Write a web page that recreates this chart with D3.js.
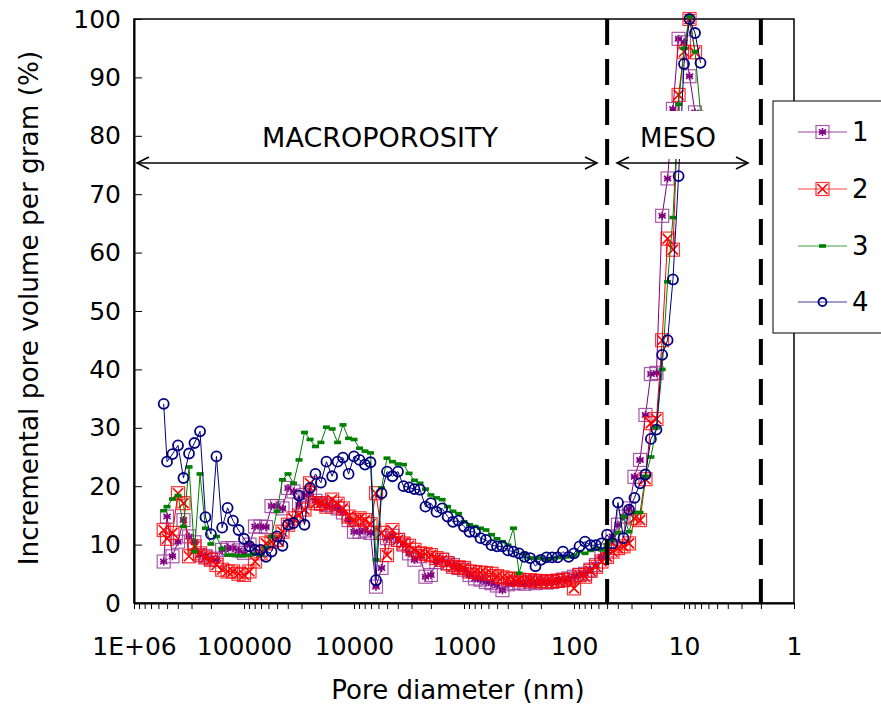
<!DOCTYPE html>
<html><head><meta charset="utf-8">
<script src="https://cdn.jsdelivr.net/npm/d3@7"></script>
<style>body{margin:0;background:#fff;} svg{display:block;font-family:"DejaVu Sans",Verdana,sans-serif;}</style>
</head><body><svg id="c" width="881" height="713"></svg>
<script>
// Pore diameters (nm), shared by all four samples
const diameters = [537000, 501000, 447000, 398000, 355000, 316000, 282000, 251000, 224000, 200000,
  178000, 158000, 141000, 126000, 112000, 100000, 89100, 79400, 70800, 63100,
  56200, 50100, 44700, 39800, 35500, 31600, 28200, 25100, 22400, 20000,
  17800, 15800, 14100, 12600, 11200, 10000, 8910, 7940, 7080, 6310,
  5620, 5010, 4470, 3980, 3550, 3160, 2820, 2510, 2240, 2000,
  1780, 1580, 1410, 1260, 1120, 1000, 891, 794, 708, 631,
  562, 501, 447, 398, 355, 316, 282, 251, 224, 200,
  178, 158, 141, 126, 112, 100, 89.1, 79.4, 70.8, 63.1,
  56.2, 50.1, 44.7, 39.8, 35.5, 31.6, 28.2, 25.1, 22.4, 20.0,
  17.8, 15.8, 14.1, 12.6, 11.2, 10.0, 8.91, 7.94, 7.08];

const series1 = [7.1, 14.8, 8, 10.5, 14.2, 11.4, 10.4, 8.2, 8, 7.6,
  7.4, 9.1, 9.4, 9.4, 9, 8.6, 10, 13.1, 13.1, 13,
  16.6, 16.6, 16.2, 19.7, 19.1, 16.8, 18.5, 18.8, 17.5, 17,
  16.8, 16.5, 16.2, 15.5, 14.2, 12.2, 12.2, 12.4, 12, 2.8,
  6, 11.1, 11.5, 10.8, 10, 8.5, 7.4, 8, 4.5, 4.8,
  7, 7.4, 6.8, 6.5, 6, 5.7, 4.8, 4.2, 4, 3.6,
  3.4, 3, 2.2, 3.2, 3.4, 3.5, 3.3, 3.6, 3.4, 3.7,
  3.5, 3.6, 3.8, 4, 4.2, 4.5, 4.8, 5, 5.7, 6.5,
  7.9, 9, 11.4, 13.4, 14.8, 16.2, 21.6, 24.5, 32.2, 39.2,
  39.4, 66.3, 72.7, 84.6, 96.6, 96, 90.2, 84, null];

const series2 = [12.5, 11, 12, 18.8, 17.1, 8, 9.7, 8.5, 7.8, 7.4,
  6.5, 5.7, 5.4, 5.4, 5, 4.8, 5.4, 7.1, 8.5, 10.2,
  10.5, 10.8, 12.2, 13.4, 14.5, 15, 16, 20.5, 17.1, 17.1,
  16.5, 17.7, 17, 16.2, 14.8, 14.2, 14.5, 14.2, 13.5, 18.8,
  12, 8.2, 12.5, 10.8, 10.2, 9.8, 9.1, 8.5, 8.4, 8.2,
  7.7, 7.4, 6.8, 6.2, 6.1, 6, 5.4, 5.3, 5.2, 5.1,
  5, 4.6, 4.4, 4.2, 4.1, 4, 3.9, 3.9, 3.8, 3.7,
  3.7, 3.7, 3.8, 3.9, 4, 2.5, 4.8, 4.5, 5.5, 6.2,
  7.1, 7.9, 8.8, 9.4, 9.7, 10.2, 14.5, 14.2, 21.2, 30.8,
  31.5, 45, 62.4, 60.5, 87, 94.4, 100, 94.3, null];

const series3 = [15.8, 16.5, 17.8, 18.4, 13.1, 23.3, 8.8, 22.1, 12.8, 10.1,
  11.4, 9.3, 8.2, 8.2, 8.1, 8.1, 8.2, 8.4, 8.2, 9.5,
  11.4, 15.7, 21.1, 22.1, 20.5, 24.5, 29.2, 28, 26.8, 27.5,
  30.1, 29.8, 27.5, 30.5, 28.2, 28, 26.5, 26, 25.7, 7.4,
  19.7, 24.8, 24.2, 23.8, 23.7, 22.2, 21, 20.5, 19.5, 18.5,
  18, 17.7, 16.5, 15.7, 15.3, 13.9, 13.4, 13.1, 12.8, 12.5,
  11.7, 11, 10.5, 9.9, 12.8, 5.1, 8.5, 7.7, 7.7, 7.7,
  7.4, 7.6, 7.8, 7.8, 7.9, 8.2, 8.8, 8.5, 9, 9.4,
  9.1, 10, 10.8, 12, 14.8, 12.2, 15.5, 15.5, 21.7, 25,
  30, 40, 55, 66, 85.4, 95, 100.5, 94.4, 84];

const series4 = [34.1, 24.2, 25.5, 27, 21.4, 25.6, 27.4, 29.4, 14.7, 11.8,
  25.1, 12.9, 16.3, 14.1, 12.5, 11, 9.7, 9.1, 9.1, 7.9,
  8.8, 11.4, 9.8, 13.4, 13.7, 18.4, 13.4, 19.7, 22.1, 20.6,
  24.2, 21.7, 24.2, 24.9, 22.1, 25.1, 24.5, 23.7, 24.1, 3.9,
  18.8, 22.5, 21.7, 22.5, 20, 19.8, 19.5, 19.4, 16.5, 17.1,
  15.6, 16.2, 14.8, 13.9, 14.1, 13.1, 12.2, 12.2, 11.1, 10.8,
  9.9, 9.7, 9.7, 9, 8.8, 8.5, 7.9, 7.7, 6.3, 7.4,
  7.8, 7.8, 7.8, 8.8, 7.9, 8.5, 9.7, 10.5, 9.9, 9.9,
  10.2, 11.7, 10.2, 17.2, 11.1, 16, 18, 20.5, 22, 28.1,
  29.7, 42.5, 45, 55.4, 73.1, 92.3, 100, 97.6, 92.5];

const seriesNames = ["1", "2", "3", "4"];
const seriesColors = ["#800080", "#ff0000", "#008000", "#000080"];
const xTickValues = [1e6, 1e5, 1e4, 1e3, 100, 10, 1];
const xTickLabels = ["1E+06", "100000", "10000", "1000", "100", "10", "1"];
const yTickValues = [0, 10, 20, 30, 40, 50, 60, 70, 80, 90, 100];
const boundaryDiameters = [50, 2];   // macro/meso and meso/micro limits (nm)
const regionLabels = ["MACROPOROSITY", "MESO"];
const xTitle = "Pore diameter (nm)";
const yTitle = "Incremental pore volume per gram (%)";

const svg = d3.select("#c");
const L = 134, R = 794, T = 19, B = 603;
const x = d3.scaleLog().domain([1e6, 1]).range([L, R]);
const y = d3.scaleLinear().domain([0, 100]).range([B, T]);

// minor ticks for log axis
const minorTicks = [];
for (let e = 0; e < 6; e++) for (let m = 1; m < 10; m++) minorTicks.push(m * Math.pow(10, e));
minorTicks.push(1e6);

// frame
svg.append("rect").attr("x", L).attr("y", T).attr("width", R - L).attr("height", B - T)
  .attr("fill", "none").attr("stroke", "#000").attr("stroke-width", 1.5);

const fmtX = d => { const i = xTickValues.indexOf(d); return i >= 0 ? xTickLabels[i] : ""; };
const gx = svg.append("g").attr("transform", `translate(0,${B})`)
  .call(d3.axisBottom(x).tickValues(minorTicks).tickFormat(fmtX).tickSize(6).tickSizeOuter(0).tickPadding(28));
gx.selectAll("text").attr("font-size", 25).attr("font-family", "DejaVu Sans").attr("fill", "#000");
gx.select(".domain").attr("stroke-width", 2);
gx.selectAll(".tick line").attr("stroke-width", 1);

const gy = svg.append("g").attr("transform", `translate(${L},0)`)
  .call(d3.axisLeft(y).tickValues(yTickValues).tickSize(-8).tickSizeOuter(0).tickPadding(13));
gy.selectAll("text").attr("font-size", 25).attr("font-family", "DejaVu Sans").attr("fill", "#000");
gy.select(".domain").attr("stroke-width", 2);

// titles
svg.append("text").attr("x", 458).attr("y", 699).attr("text-anchor", "middle")
  .attr("font-size", 26).text(xTitle);
svg.append("text").attr("transform", "translate(38,308) rotate(-90)").attr("text-anchor", "middle")
  .attr("font-size", 26.3).text(yTitle);

// data
const allSeries = [series1, series2, series3, series4].map((vals, i) => ({
  name: seriesNames[i], color: seriesColors[i],
  pts: vals.map((v, j) => ({ d: diameters[j], v })).filter(p => p.v != null)
}));

const line = d3.line().x(p => x(p.d)).y(p => y(p.v));

function drawMarker(g, i, scale) {
  const s = scale || 1;
  if (i === 0) {
    g.append("rect").attr("x", -6.5 * s).attr("y", -6.5 * s).attr("width", 13 * s).attr("height", 13 * s)
      .attr("fill", "none").attr("stroke", "#9a3c9a").attr("stroke-width", 1.2).attr("stroke-opacity", 0.85);
    g.append("path").attr("d", `M0,${-4*s}V${4*s}M${-3.6*s},${-2.6*s}L${3.6*s},${2.6*s}M${-3.6*s},${2.6*s}L${3.6*s},${-2.6*s}M${-3.5*s},0H${3.5*s}`)
      .attr("stroke", "#800080").attr("stroke-width", 1.6).attr("fill", "none");
  } else if (i === 1) {
    g.append("rect").attr("x", -6.5 * s).attr("y", -6.5 * s).attr("width", 13 * s).attr("height", 13 * s)
      .attr("fill", "none").attr("stroke", "#ff0000").attr("stroke-width", 1.2).attr("stroke-opacity", 0.8);
    g.append("path").attr("d", `M${-5*s},${-5*s}L${5*s},${5*s}M${-5*s},${5*s}L${5*s},${-5*s}`)
      .attr("stroke", "#ff0000").attr("stroke-width", 1.6).attr("fill", "none");
  } else if (i === 2) {
    g.append("rect").attr("x", -3.5).attr("y", -1.8).attr("width", 7).attr("height", 3.6).attr("fill", "#008000");
  } else {
    g.append("circle").attr("r", 5 * s).attr("fill", "none").attr("stroke", "#000080").attr("stroke-width", 1.8);
  }
}

allSeries.forEach((s, i) => {
  const g = svg.append("g");
  g.append("path").attr("d", line(s.pts)).attr("fill", "none").attr("stroke", s.color).attr("stroke-width", 1);
  g.selectAll("g.m").data(s.pts).join("g").attr("class", "m")
    .attr("transform", p => `translate(${x(p.d)},${y(p.v)})`)
    .each(function () { drawMarker(d3.select(this), i); });
});

// boundary dashed lines
boundaryDiameters.forEach(d => {
  svg.append("line").attr("x1", x(d)).attr("x2", x(d)).attr("y1", T).attr("y2", B)
    .attr("stroke", "#000").attr("stroke-width", 4).attr("stroke-dasharray", "26,14");
});

// white box behind MESO label
svg.append("rect").attr("x", 636).attr("y", 111).attr("width", 84).attr("height", 48).attr("fill", "#fff");

function arrow(x1, x2, yy) {
  const g = svg.append("g").attr("stroke", "#000").attr("stroke-width", 1.6).attr("fill", "none");
  g.append("line").attr("x1", x1).attr("x2", x2).attr("y1", yy).attr("y2", yy);
  g.append("path").attr("d", `M${x1 + 12},${yy - 6}L${x1},${yy}L${x1 + 12},${yy + 6}`);
  g.append("path").attr("d", `M${x2 - 12},${yy - 6}L${x2},${yy}L${x2 - 12},${yy + 6}`);
}
arrow(137, 597, 163);
arrow(617, 748, 163);

svg.append("text").attr("x", 380).attr("y", 147).attr("text-anchor", "middle").attr("font-size", 27).text(regionLabels[0]);
svg.append("text").attr("x", 678).attr("y", 147).attr("text-anchor", "middle").attr("font-size", 26).text(regionLabels[1]);

// legend
const lg = svg.append("g");
lg.append("rect").attr("x", 773).attr("y", 101).attr("width", 120).attr("height", 232)
  .attr("fill", "#fff").attr("stroke", "#000").attr("stroke-width", 1);
const legY = [132, 189, 246, 302];
allSeries.forEach((s, i) => {
  lg.append("line").attr("x1", 798).attr("x2", 847).attr("y1", legY[i]).attr("y2", legY[i])
    .attr("stroke", s.color).attr("stroke-width", 1.2).attr("stroke-opacity", 0.75);
  const m = lg.append("g").attr("transform", `translate(822.5,${legY[i]})`);
  drawMarker(m, i, i === 3 ? 0.8 : 1);
  lg.append("text").attr("x", 852).attr("y", legY[i] + 9).attr("font-size", 26).text(s.name);
});
</script>
</body></html>
